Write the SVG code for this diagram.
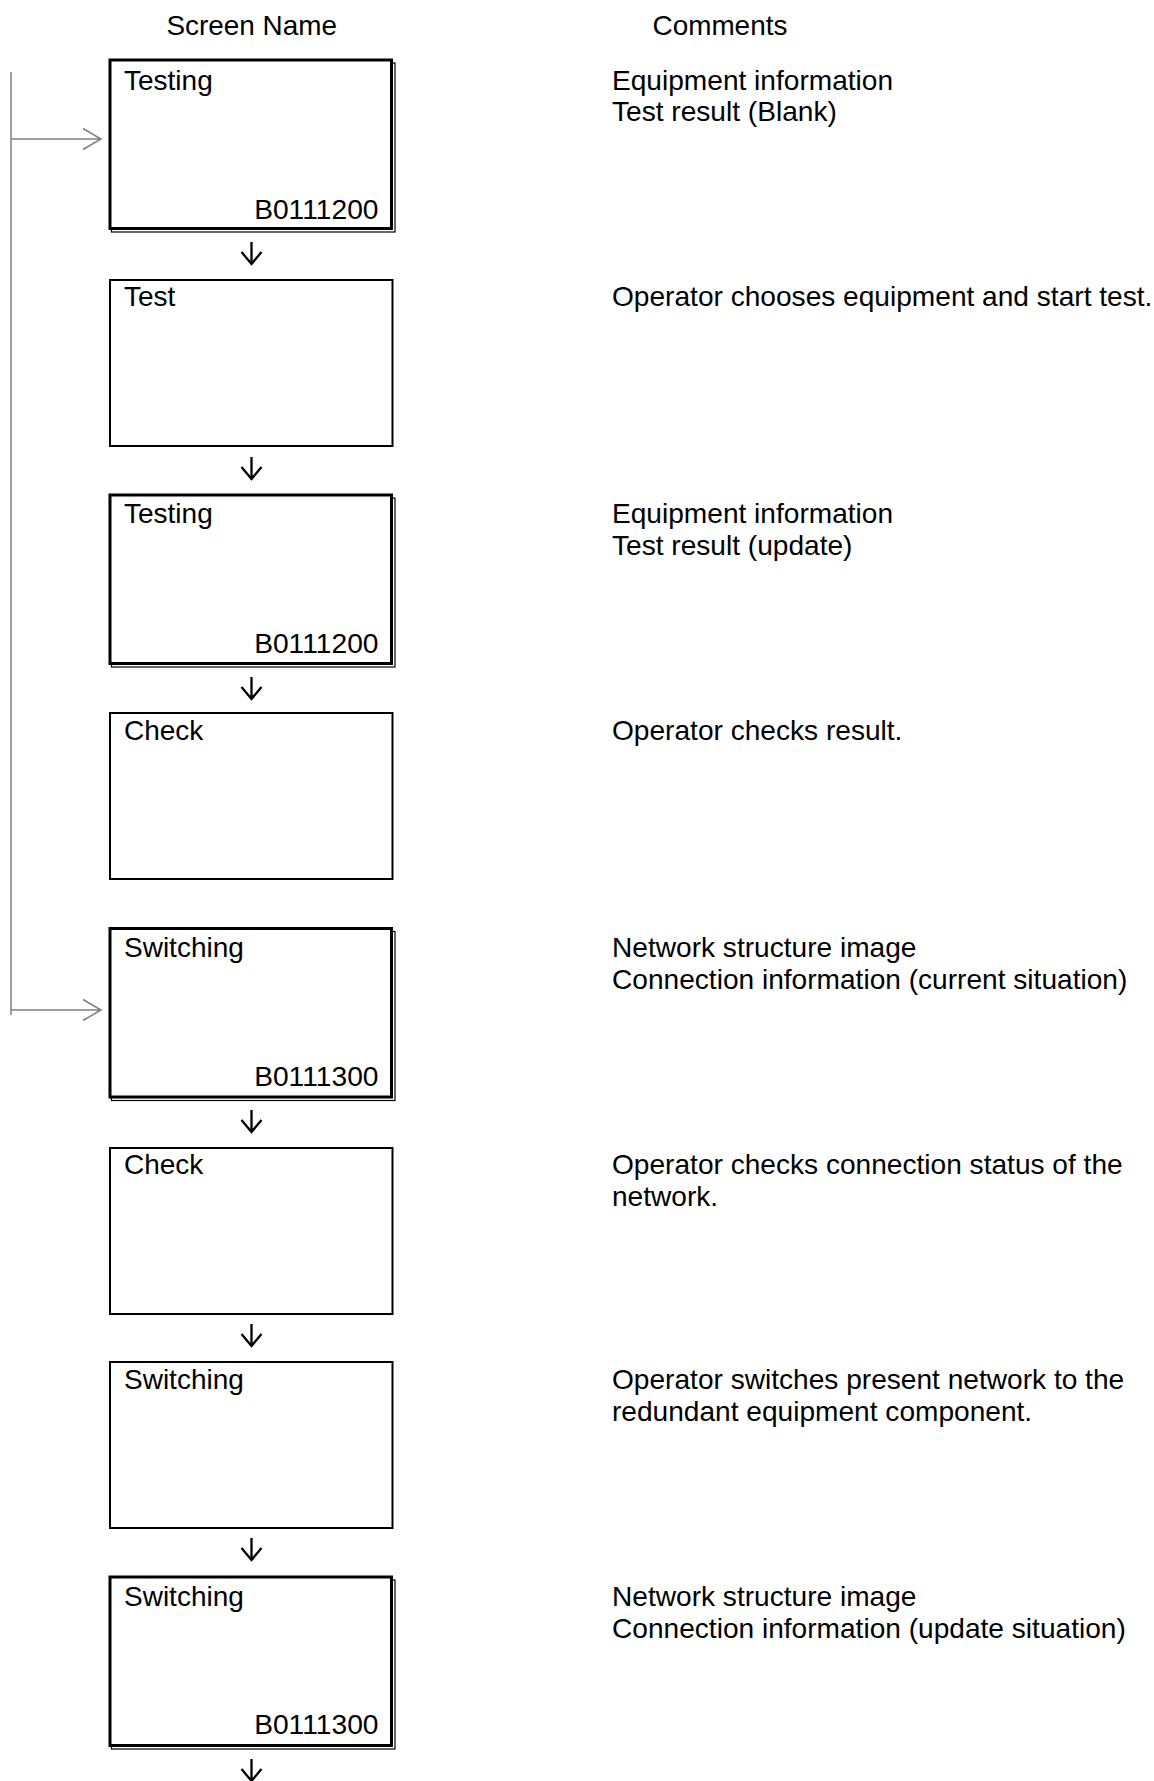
<svg xmlns="http://www.w3.org/2000/svg" width="1154" height="1781" viewBox="0 0 1154 1781">
  <style>
    text { font-family: "Liberation Sans", Arial, sans-serif; fill: #000; }
    .hdr { font-size: 27.9px; }
    .lbl { font-size: 28px; }
    .code { font-size: 28.2px; text-anchor: end; }
    .cmt { font-size: 28.1px; }
    .thick { fill: #fff; stroke: #000; stroke-width: 3; }
    .thin { fill: none; stroke: #000; stroke-width: 1.2; }
    .single { fill: #fff; stroke: #000; stroke-width: 2; }
    .flow { fill: none; stroke: #000; stroke-width: 2.3; }
    .loop { fill: none; stroke: #808080; stroke-width: 1.5; }
  </style>
  <rect width="1154" height="1781" fill="#fff"/>

  <!-- column headings -->
  <g id="headings">
    <text class="hdr" x="166.5" y="34.5">Screen Name</text>
    <text class="hdr" x="652.5" y="34.5">Comments</text>
  </g>

  <!-- screens: double frame = screen with id, single frame = operator action -->
  <g id="screen-testing-1">
    <rect class="thin" x="111.5" y="63" width="283.5" height="169"/>
    <rect class="thick" x="110" y="60" width="281.5" height="168.5"/>
    <text class="lbl" x="124" y="89.5">Testing</text>
    <text class="code" x="378.5" y="219">B0111200</text>
  </g>
  <g id="screen-test">
    <rect class="single" x="110" y="280" width="282.5" height="166"/>
    <text class="lbl" x="124" y="306">Test</text>
  </g>
  <g id="screen-testing-2">
    <rect class="thin" x="111.5" y="498" width="283.5" height="169"/>
    <rect class="thick" x="110" y="495" width="281.5" height="168.5"/>
    <text class="lbl" x="124" y="523">Testing</text>
    <text class="code" x="378.5" y="652.5">B0111200</text>
  </g>
  <g id="screen-check-1">
    <rect class="single" x="110" y="713" width="282.5" height="166"/>
    <text class="lbl" x="124" y="740">Check</text>
  </g>
  <g id="screen-switching-1">
    <rect class="thin" x="111.5" y="931.5" width="283.5" height="169"/>
    <rect class="thick" x="110" y="928.5" width="281.5" height="168.5"/>
    <text class="lbl" x="124" y="957">Switching</text>
    <text class="code" x="378.5" y="1085.5">B0111300</text>
  </g>
  <g id="screen-check-2">
    <rect class="single" x="110" y="1148" width="282.5" height="166"/>
    <text class="lbl" x="124" y="1174">Check</text>
  </g>
  <g id="screen-switching-2">
    <rect class="single" x="110" y="1362" width="282.5" height="166"/>
    <text class="lbl" x="124" y="1388.5">Switching</text>
  </g>
  <g id="screen-switching-3">
    <rect class="thin" x="111.5" y="1580" width="283.5" height="169"/>
    <rect class="thick" x="110" y="1577" width="281.5" height="168.5"/>
    <text class="lbl" x="124" y="1605.5">Switching</text>
    <text class="code" x="378.5" y="1734">B0111300</text>
  </g>

  <!-- comments column -->
  <g id="comments">
    <text class="cmt" x="612" y="89.5">Equipment information</text>
    <text class="cmt" x="612" y="121">Test result (Blank)</text>
    <text class="cmt" x="612" y="306">Operator chooses equipment and start test.</text>
    <text class="cmt" x="612" y="523">Equipment information</text>
    <text class="cmt" x="612" y="555">Test result (update)</text>
    <text class="cmt" x="612" y="740">Operator checks result.</text>
    <text class="cmt" x="612" y="957">Network structure image</text>
    <text class="cmt" x="612" y="989">Connection information (current situation)</text>
    <text class="cmt" x="612" y="1174">Operator checks connection status of the</text>
    <text class="cmt" x="612" y="1206">network.</text>
    <text class="cmt" x="612" y="1388.5">Operator switches present network to the</text>
    <text class="cmt" x="612" y="1420.5">redundant equipment component.</text>
    <text class="cmt" x="612" y="1605.5">Network structure image</text>
    <text class="cmt" x="612" y="1637.5">Connection information (update situation)</text>
  </g>

  <!-- connectors -->
  <g id="connectors">
    <path class="flow" d="M251.5 242V264M241.5 252L251.5 264L261.5 252"/>
    <path class="flow" d="M251.5 457V479M241.5 467L251.5 479L261.5 467"/>
    <path class="flow" d="M251.5 677V699M241.5 687L251.5 699L261.5 687"/>
    <path class="flow" d="M251.5 1110V1132M241.5 1120L251.5 1132L261.5 1120"/>
    <path class="flow" d="M251.5 1324V1346M241.5 1334L251.5 1346L261.5 1334"/>
    <path class="flow" d="M251.5 1538V1560M241.5 1548L251.5 1560L261.5 1548"/>
    <path class="flow" d="M251.5 1759V1781M241.5 1769L251.5 1781L261.5 1769"/>
    <!-- return path feeding both id screens -->
    <path class="loop" d="M11 72V1015"/>
    <path class="loop" d="M11 139H101M83 128.5L101 139L83 149.5"/>
    <path class="loop" d="M11 1010H101M83 999.5L101 1010L83 1020.5"/>
  </g>
</svg>
